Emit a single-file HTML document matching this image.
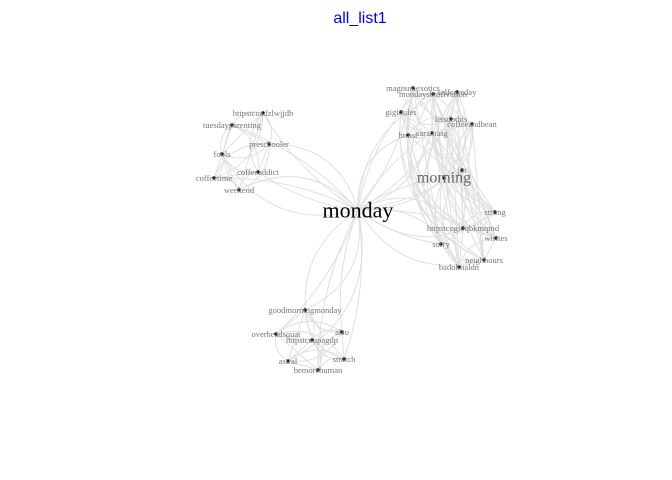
<!DOCTYPE html>
<html><head><meta charset="utf-8"><style>
body{margin:0;background:#fff;width:672px;height:480px;overflow:hidden}
svg{display:block}
.lbl{font-family:"Liberation Serif",serif;font-size:8.5px;fill:#777;text-anchor:middle;dominant-baseline:central}
</style></head><body>
<svg id="chart" width="672" height="480" xmlns="http://www.w3.org/2000/svg">
<text x="360" y="23" text-anchor="middle" font-family="Liberation Sans,sans-serif" font-size="16" fill="#0000ff">all_list1</text>
<g id="edges"></g>
<g id="nodes"></g>
</svg>
<script>
const nodeNames=["monday","morning","magnumexotics","mondaysbtofivation","selfcareday","gigioules","letsdothis","coffeeandbean","htmst","saramasg","jot","strong","httpstcogioqbkmqmd","wirites","sorry","neighbours","badolmaldn","httpstcoadzlwjjdb","tuesdayparenting","preschooler","fools","coffeeaddict","coffeetime","weekend","goodmorningmonday","overheadsquat","also","httpstcoupagdp","astral","stretch","bemorehuman"];
const nodeX=[358,444,413,433,457,401,451,472,408,432,462,495,463,496,441,484,459,263,232,269,222,258,214,239,305,276,342,312,288,344,318];
const nodeY=[210,178,88,94,92,112,119,124,135,133,170,212,228,238,244,260,267,113,125,144,154,172,178,190,310,334,332,340,361,359,370];
const nodeGroup=[0,1,1,1,1,1,1,1,1,1,1,1,1,1,1,1,1,2,2,2,2,2,2,2,3,3,3,3,3,3,3];
const eg=document.getElementById('edges'),ng=document.getElementById('nodes');
const NS="http://www.w3.org/2000/svg";
function edge(a,b,k){
  const x1=nodeX[a],y1=nodeY[a],x2=nodeX[b],y2=nodeY[b];
  const mx=(x1+x2)/2,my=(y1+y2)/2,dx=x2-x1,dy=y2-y1;
  const p=document.createElementNS(NS,'path');
  p.setAttribute('d',`M${x1},${y1} Q${mx-dy*k},${my+dx*k} ${x2},${y2}`);
  p.setAttribute('fill','none');p.setAttribute('stroke','#e0e0e0');p.setAttribute('stroke-width','1');
  
  
  eg.appendChild(p);
}
for(let i=0;i<nodeNames.length;i++){
  for(let j=i+1;j<nodeNames.length;j++){
    const gi=nodeGroup[i],gj=nodeGroup[j];
    if(gi===gj&&gi>0){ if(gi===1&&(i+j)%3===0) continue; edge(i,j,((i+j)%3-1)*0.35);}
    else if(i===0){edge(i,j,((j%4)-1.5)*0.25);}
    else if(i===1&&gj===1){edge(i,j,((j%3)-1)*0.4);}
  }
}
nodeNames.forEach((n,i)=>{
  const big=i===0,med=i===1;
  if(!big){
    const c=document.createElementNS(NS,'circle');
    c.setAttribute('cx',nodeX[i]);c.setAttribute('cy',nodeY[i]);c.setAttribute('r',2);
    c.setAttribute('fill','#111');c.setAttribute('stroke','#fff');c.setAttribute('stroke-width','0.6');
    
    
    ng.appendChild(c);
  }
  const t=document.createElementNS(NS,'text');
  t.setAttribute('x',nodeX[i]);t.setAttribute('y',nodeY[i]);t.setAttribute('class','lbl');
  if(big){t.style.fill='#000';t.style.fontSize='22px';}
  if(med){t.style.fontSize='16px';t.style.fill='#666';}
  t.textContent=n;
  
  
  ng.appendChild(t);
});
</script>
</body></html>
